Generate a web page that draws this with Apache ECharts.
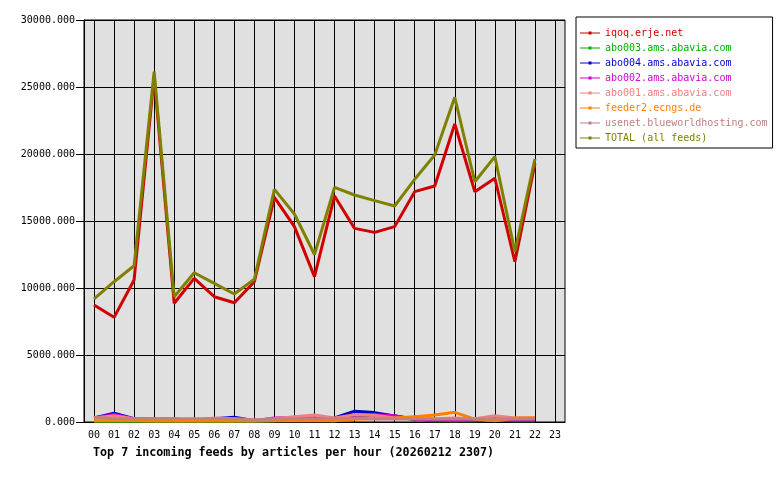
<!DOCTYPE html>
<html>
<head>
<meta charset="utf-8">
<script src="https://cdn.jsdelivr.net/npm/echarts@6/dist/echarts.min.js"></script>
<style>html,body{margin:0;padding:0;background:#fff}#c{width:780px;height:480px}</style>
</head>
<body>
<div id="c"></div>
<script>
var hours = ['00','01','02','03','04','05','06','07','08','09','10','11','12','13','14','15','16','17','18','19','20','21','22','23'];
var yTicks = [0, 5000, 10000, 15000, 20000, 25000, 30000];
var seriesNames = ['iqoq.erje.net','abo003.ams.abavia.com','abo004.ams.abavia.com','abo002.ams.abavia.com','abo001.ams.abavia.com','feeder2.ecngs.de','usenet.blueworldhosting.com','TOTAL (all feeds)'];
var iqoq    = [8730, 7810, 10600, 25800, 8860, 10720, 9350, 8900, 10470, 16770, 14580, 10850, 16870, 14450, 14150, 14580, 17190, 17610, 22240, 17190, 18190, 11960, 19300];
var abo003  = [50, 50, 50, 50, 50, 50, 50, 50, 50, 100, 150, 150, 100, 300, 600, 450, 150, 100, 100, 100, 150, 100, 100];
var abo004  = [300, 650, 250, 200, 200, 150, 250, 350, 100, 150, 200, 250, 300, 800, 700, 450, 200, 150, 150, 150, 200, 150, 150];
var abo002  = [300, 570, 250, 200, 200, 150, 200, 200, 100, 300, 320, 300, 250, 500, 550, 470, 200, 150, 100, 150, 250, 150, 150];
var abo001  = [300, 470, 250, 200, 200, 150, 300, 250, 150, 250, 400, 520, 300, 550, 500, 300, 350, 250, 300, 250, 470, 300, 300];
var feeder2 = [100, 100, 100, 80, 80, 80, 80, 80, 80, 100, 100, 100, 100, 200, 250, 300, 400, 520, 720, 220, 100, 300, 320];
var usenet  = [350, 250, 250, 250, 250, 250, 250, 250, 150, 220, 250, 250, 250, 280, 220, 220, 220, 220, 220, 220, 220, 220, 220];
var total   = [9180, 10470, 11660, 26150, 9350, 11140, 10350, 9550, 10650, 17360, 15520, 12500, 17510, 16940, 16520, 16120, 18110, 19930, 24230, 17930, 19800, 12710, 19630];
var colors = ['#d00000', '#00b000', '#0000d0', '#d000d0', '#f08080', '#ff8000', '#c08080', '#808000'];
var title = 'Top 7 incoming feeds by articles per hour (20260212 2307)';

var dataSets = [iqoq, abo003, abo004, abo002, abo001, feeder2, usenet, total];
var mono = '"DejaVu Sans Mono", "Liberation Mono", monospace';
var legendIcon = 'path://M0,4.5H8.5V3.5H11.5V4.5H20V5.5H11.5V6.5H8.5V5.5H0Z';

var chart = echarts.init(document.getElementById('c'), null, {renderer: 'canvas'});
chart.setOption({
  animation: false,
  backgroundColor: '#ffffff',
  color: colors,
  title: {
    text: title,
    left: 88, top: 442,
    textStyle: {fontFamily: mono, fontSize: 11.7, fontWeight: 'bold', color: '#000'}
  },
  legend: {
    orient: 'vertical',
    left: 576, top: 17,
    padding: [11, 5, 5, 4],
    itemGap: 5,
    itemWidth: 20, itemHeight: 10,
    icon: legendIcon,
    backgroundColor: '#ffffff',
    borderColor: '#000', borderWidth: 1, borderRadius: 0,
    textStyle: {fontFamily: mono, fontSize: 10},
    data: seriesNames.map(function (n, i) { return {name: n, icon: legendIcon, textStyle: {color: colors[i]}}; })
  },
  grid: {
    left: 84, top: 20, width: 481, height: 402,
    show: true, backgroundColor: '#e0e0e0', borderColor: '#000', borderWidth: 1
  },
  xAxis: {
    type: 'category',
    data: hours,
    boundaryGap: true,
    axisLine: {lineStyle: {color: '#000', width: 1}},
    axisTick: {alignWithLabel: true, length: 5, lineStyle: {color: '#000'}},
    axisLabel: {fontFamily: mono, fontSize: 10, color: '#000', margin: 8},
    splitLine: {show: true, alignWithLabel: true, lineStyle: {color: '#000', width: 1}}
  },
  yAxis: {
    type: 'value',
    min: yTicks[0], max: yTicks[yTicks.length - 1], interval: yTicks[1] - yTicks[0],
    axisLine: {show: true, lineStyle: {color: '#000'}},
    axisTick: {show: true, length: 8, lineStyle: {color: '#000'}},
    axisLabel: {fontFamily: mono, fontSize: 10, color: '#000', margin: 9,
      formatter: function (v) { return v.toFixed(3); }},
    splitLine: {show: true, lineStyle: {color: '#000', width: 1}}
  },
  series: seriesNames.map(function (n, i) {
    return {
      name: n, type: 'line', data: dataSets[i],
      symbol: 'none', showSymbol: false,
      lineStyle: {width: 3, color: colors[i]},
      itemStyle: {color: colors[i]},
      z: 2 + i
    };
  })
});
</script>
</body>
</html>
